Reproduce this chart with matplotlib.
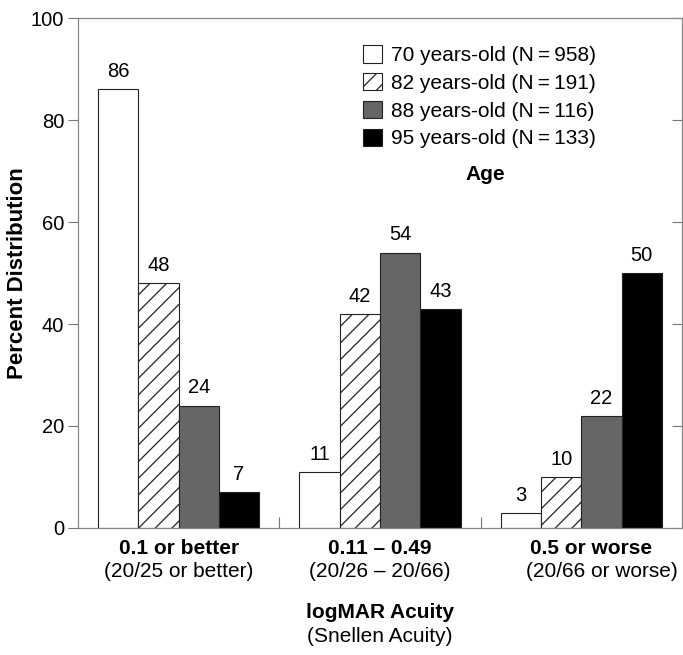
import numpy as np
import matplotlib
matplotlib.use("Agg")
import matplotlib.pyplot as plt
from matplotlib.lines import TICKLEFT

plt.rcParams["font.family"] = ["Liberation Sans", "DejaVu Sans"]
plt.rcParams["hatch.linewidth"] = 0.9

groups = ["0.1 or better", "0.11 \u2013 0.49", "0.5 or worse"]
snellen = ["(20/25 or better)", "(20/26 \u2013 20/66)", "(20/66 or worse)"]
ages = ["70 years-old (N\u2009=\u2009958)", "82 years-old (N\u2009=\u2009191)",
        "88 years-old (N\u2009=\u2009116)", "95 years-old (N\u2009=\u2009133)"]
age70 = [86, 11, 3]
age82 = [48, 42, 10]
age88 = [24, 54, 22]
age95 = [7, 43, 50]

series = [age70, age82, age88, age95]
faces = ["white", "white", "#666666", "black"]
hatches = [None, "//", None, None]

fig = plt.figure(figsize=(6.83, 6.55), dpi=100)
ax = fig.add_axes([0.1142, 0.1939, 0.8843, 0.7786])

x = np.arange(len(groups))
w = 0.2
for i, vals in enumerate(series):
    pos = x + (i - 1.5) * w
    ax.bar(pos, vals, w, color=faces[i], edgecolor="#222222",
           linewidth=0.8, hatch=hatches[i], label=ages[i])
    for p, v in zip(pos, vals):
        ax.text(p, v + 1.6, str(v), ha="center", va="bottom", fontsize=14.5)

ax.set_xlim(-0.5, 2.5)
ax.set_ylim(0, 100)
ax.set_yticks([0, 20, 40, 60, 80, 100])
ax.tick_params(axis="y", labelsize=14.5, length=7, width=0.8, color="#777777",
               right=True, direction="out", pad=3)
for t in ax.yaxis.get_major_ticks():
    t.tick2line.set_marker(TICKLEFT)
ax.set_xticks([0.5, 1.5])
ax.set_xticklabels([])
ax.tick_params(axis="x", direction="in", length=8, width=0.8, color="#777777")
for s in ax.spines.values():
    s.set_color("#888888")
    s.set_linewidth(0.9)

# category labels (bold logMAR range, Snellen equivalent underneath)
for i in range(3):
    shift = 0.05 if i == 2 else 0
    ax.text(x[i] + shift, -4.1, groups[i], ha="center", va="center",
            fontsize=15, fontweight="bold")
    ax.text(x[i] + 2 * shift, -8.5, snellen[i], ha="center", va="center",
            fontsize=15)

xmid = 0.5 * (78 + 682) / 683
fig.text(xmid, 1 - 612 / 655, "logMAR Acuity", ha="center", va="center",
         fontsize=15, fontweight="bold")
fig.text(xmid, 1 - 636 / 655, "(Snellen Acuity)", ha="center", va="center",
         fontsize=15)
ax.set_ylabel("Percent Distribution", fontsize=16, fontweight="bold")
ax.yaxis.set_label_coords(-0.083, 0.5)

ax.legend(loc="upper left", bbox_to_anchor=(0.455, 0.967), frameon=False,
          fontsize=15, borderpad=0, handlelength=0.9, handleheight=0.9,
          handletextpad=0.45, labelspacing=0.38)
fig.text(485 / 683, 1 - 174 / 655, "Age", ha="center", va="center",
         fontsize=15, fontweight="bold")

fig.savefig("out.png", dpi=100)
